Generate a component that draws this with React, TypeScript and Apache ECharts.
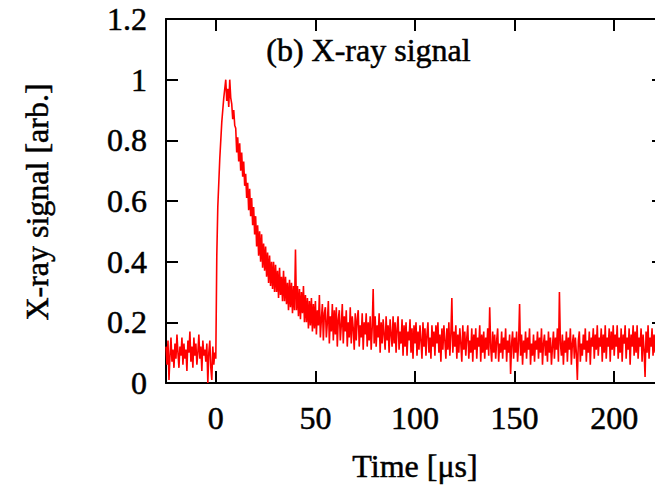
import React, { useEffect, useRef } from "react";
import * as echarts from "echarts";

// Sampling: first time and step (µs)
const tStart = -25;
const tStep = 0.5;

// X-ray signal values, one per 0.5 µs starting at -25 µs
const signal: number[] = [
  // -25 .. -20.5
  0.12, 0.06, 0.14, 0.01, 0.09, 0.15, 0.07, 0.11, 0.05, 0.13,
  // -20 .. -15.5
  0.08, 0.16, 0.1, 0.05, 0.12, 0.09, 0.15, 0.06, 0.13, 0.08,
  // -15 .. -10.5
  0.11, 0.04, 0.14, 0.1, 0.17, 0.07, 0.12, 0.05, 0.15, 0.09,
  // -10 .. -5.5
  0.13, 0.06, 0.1, 0.16, 0.08, 0.12, 0.04, 0.14, 0.09, 0.11,
  // -5 .. -0.5
  0.07, 0.13, 0.0, 0.1, 0.14, 0.05, 0.01, 0.12, 0.06, 0.1,
  // 0 .. 4.5
  0.08, 0.42, 0.58, 0.66, 0.74, 0.8, 0.86, 0.9, 0.94, 0.97,
  // 5 .. 9.5
  1.0, 0.93, 0.97, 0.91, 1.0, 0.94, 0.92, 0.87, 0.9, 0.85,
  // 10 .. 14.5
  0.84, 0.76, 0.81, 0.73, 0.79, 0.7, 0.76, 0.68, 0.73, 0.65,
  // 15 .. 19.5
  0.69, 0.61, 0.66, 0.57, 0.64, 0.55, 0.61, 0.52, 0.58, 0.49,
  // 20 .. 24.5
  0.55, 0.45, 0.52, 0.42, 0.5, 0.4, 0.49, 0.38, 0.46, 0.37,
  // 25 .. 29.5
  0.45, 0.35, 0.43, 0.33, 0.42, 0.32, 0.4, 0.31, 0.4, 0.3,
  // 30 .. 34.5
  0.39, 0.3, 0.37, 0.28, 0.38, 0.29, 0.35, 0.27, 0.37, 0.27,
  // 35 .. 39.5
  0.35, 0.26, 0.33, 0.24, 0.34, 0.25, 0.33, 0.23, 0.32, 0.24,
  // 40 .. 44.5
  0.44, 0.24, 0.32, 0.22, 0.31, 0.21, 0.3, 0.23, 0.32, 0.2,
  // 45 .. 49.5
  0.29, 0.2, 0.28, 0.18, 0.27, 0.19, 0.28, 0.17, 0.26, 0.18,
  // 50 .. 54.5
  0.27, 0.16, 0.24, 0.19, 0.29, 0.15, 0.21, 0.26, 0.14, 0.23,
  // 55 .. 59.5
  0.25, 0.15, 0.2, 0.27, 0.13, 0.22, 0.17, 0.26, 0.14, 0.24,
  // 60 .. 64.5
  0.16, 0.25, 0.12, 0.21, 0.24, 0.14, 0.19, 0.26, 0.13, 0.22,
  // 65 .. 69.5
  0.17, 0.24, 0.12, 0.2, 0.15, 0.25, 0.13, 0.22, 0.18, 0.11,
  // 70 .. 74.5
  0.23, 0.14, 0.21, 0.24, 0.12, 0.19, 0.15, 0.23, 0.11, 0.2,
  // 75 .. 79.5
  0.16, 0.23, 0.12, 0.2, 0.14, 0.22, 0.11, 0.18, 0.31, 0.13,
  // 80 .. 84.5
  0.22, 0.12, 0.19, 0.15, 0.23, 0.1, 0.2, 0.13, 0.21, 0.16,
  // 85 .. 89.5
  0.11, 0.22, 0.14, 0.19, 0.1, 0.21, 0.16, 0.12, 0.22, 0.13,
  // 90 .. 94.5
  0.2, 0.1, 0.18, 0.22, 0.11, 0.17, 0.13, 0.21, 0.09, 0.19,
  // 95 .. 99.5
  0.12, 0.2, 0.09, 0.17, 0.14, 0.21, 0.1, 0.18, 0.08, 0.19,
  // 100 .. 104.5
  0.13, 0.2, 0.09, 0.17, 0.11, 0.19, 0.14, 0.08, 0.2, 0.12,
  // 105 .. 109.5
  0.18, 0.09, 0.16, 0.2, 0.1, 0.15, 0.08, 0.19, 0.12, 0.17,
  // 110 .. 114.5
  0.09, 0.19, 0.13, 0.2, 0.1, 0.16, 0.07, 0.18, 0.11, 0.19,
  // 115 .. 119.5
  0.14, 0.08, 0.18, 0.11, 0.2, 0.09, 0.16, 0.28, 0.1, 0.17,
  // 120 .. 124.5
  0.12, 0.19, 0.08, 0.16, 0.1, 0.18, 0.13, 0.07, 0.19, 0.11,
  // 125 .. 129.5
  0.17, 0.09, 0.15, 0.19, 0.08, 0.14, 0.1, 0.18, 0.07, 0.16,
  // 130 .. 134.5
  0.11, 0.18, 0.08, 0.15, 0.12, 0.19, 0.07, 0.16, 0.1, 0.17,
  // 135 .. 139.5
  0.08, 0.15, 0.11, 0.18, 0.09, 0.25, 0.12, 0.07, 0.17, 0.1,
  // 140 .. 144.5
  0.16, 0.08, 0.14, 0.18, 0.07, 0.13, 0.1, 0.17, 0.08, 0.15,
  // 145 .. 149.5
  0.11, 0.18, 0.07, 0.14, 0.1, 0.16, 0.03, 0.13, 0.17, 0.08,
  // 150 .. 154.5
  0.15, 0.1, 0.17, 0.07, 0.13, 0.26, 0.09, 0.16, 0.06, 0.14,
  // 155 .. 159.5
  0.1, 0.17, 0.08, 0.15, 0.11, 0.18, 0.06, 0.13, 0.09, 0.16,
  // 160 .. 164.5
  0.07, 0.14, 0.11, 0.17, 0.08, 0.15, 0.1, 0.18, 0.06, 0.13,
  // 165 .. 169.5
  0.16, 0.09, 0.14, 0.07, 0.17, 0.1, 0.15, 0.06, 0.12, 0.17,
  // 170 .. 174.5
  0.08, 0.15, 0.11, 0.18, 0.07, 0.3, 0.13, 0.09, 0.16, 0.06,
  // 175 .. 179.5
  0.14, 0.1, 0.17, 0.07, 0.15, 0.11, 0.18, 0.06, 0.13, 0.16,
  // 180 .. 184.5
  0.08, 0.15, 0.1, 0.01, 0.14, 0.17, 0.07, 0.13, 0.09, 0.16,
  // 185 .. 189.5
  0.11, 0.18, 0.07, 0.14, 0.1, 0.17, 0.06, 0.15, 0.12, 0.18,
  // 190 .. 194.5
  0.08, 0.16, 0.11, 0.19, 0.09, 0.15, 0.12, 0.18, 0.07, 0.16,
  // 195 .. 199.5
  0.1, 0.19, 0.08, 0.15, 0.12, 0.18, 0.07, 0.17, 0.11, 0.19,
  // 200 .. 204.5
  0.09, 0.16, 0.12, 0.19, 0.08, 0.15, 0.1, 0.18, 0.07, 0.16,
  // 205 .. 209.5
  0.13, 0.19, 0.08, 0.15, 0.11, 0.18, 0.06, 0.16, 0.12, 0.19,
  // 210 .. 214.5
  0.09, 0.17, 0.1, 0.19, 0.08, 0.15, 0.12, 0.18, 0.07, 0.16,
  // 215 .. 219.5
  0.11, 0.02, 0.17, 0.1, 0.19, 0.08, 0.15, 0.12, 0.18, 0.09,
  // 220 .. 222
  0.16, 0.1, 0.18, 0.08, 0.15,
];

const xTicks = [0, 50, 100, 150, 200];
const xMin = -25;
const xMax = 225;
const yMin = 0;
const yMax = 1.2;
const yInterval = 0.2;

const titleText = "(b) X-ray signal";
const xName = "Time [\u03bcs]";
const yName = "X-ray signal [arb.]";

const FONT = "'Liberation Serif', 'Times New Roman', serif";

export default function App() {
  const ref = useRef<HTMLDivElement>(null);

  useEffect(() => {
    if (!ref.current) return;
    const chart = echarts.init(ref.current, undefined, { renderer: "svg" });
    const data = signal.map((v, i) => [tStart + i * tStep, v]);

    const tickStyle = { color: "#000", width: 2 };
    const axisLine = { show: true, onZero: false, lineStyle: { color: "#000", width: 2 } };
    const labelStyle = {
      color: "#000",
      fontFamily: FONT,
      fontSize: 32,
      textBorderColor: "#000",
      textBorderWidth: 0.5,
    };
    const textStyle = (text: string, extra: any = {}) => ({
      text,
      fill: "#000",
      stroke: "#000",
      lineWidth: 0.5,
      font: `32px ${FONT}`,
      ...extra,
    });

    chart.setOption({
      animation: false,
      backgroundColor: "#fff",
      grid: {
        left: 166,
        top: 19,
        width: 498,
        height: 364,
        containLabel: false,
        outerBoundsMode: "none",
      },
      xAxis: [
        {
          type: "value",
          position: "bottom",
          min: xMin,
          max: xMax,
          axisLine,
          axisTick: { show: true, inside: true, length: 12, lineStyle: tickStyle, customValues: xTicks },
          axisLabel: { ...labelStyle, margin: 19, customValues: xTicks },
          splitLine: { show: false },
        },
        {
          type: "value",
          position: "top",
          min: xMin,
          max: xMax,
          axisLine,
          axisTick: { show: true, inside: true, length: 12, lineStyle: tickStyle, customValues: xTicks },
          axisLabel: { show: false },
          splitLine: { show: false },
        },
      ],
      yAxis: [
        {
          type: "value",
          position: "left",
          min: yMin,
          max: yMax,
          interval: yInterval,
          axisLine,
          axisTick: { show: true, inside: true, length: 12, lineStyle: tickStyle },
          axisLabel: { ...labelStyle, margin: 19 },
          splitLine: { show: false },
        },
        {
          type: "value",
          position: "right",
          min: yMin,
          max: yMax,
          interval: yInterval,
          axisLine,
          axisTick: { show: true, inside: true, length: 12, lineStyle: tickStyle },
          axisLabel: { show: false },
          splitLine: { show: false },
        },
      ],
      series: [
        {
          type: "line",
          data,
          xAxisIndex: 0,
          yAxisIndex: 0,
          symbol: "none",
          lineStyle: { color: "#ff0000", width: 1.6 },
          itemStyle: { color: "#ff0000" },
          z: 1,
        },
      ],
      graphic: [
        {
          type: "text",
          left: 266,
          top: 34,
          style: textStyle(titleText),
        },
        {
          type: "text",
          x: 415,
          y: 466,
          style: textStyle(xName, { align: "center", verticalAlign: "middle" }),
        },
        {
          type: "text",
          x: 37,
          y: 202,
          rotation: Math.PI / 2,
          style: textStyle(yName, { align: "center", verticalAlign: "middle" }),
        },
      ],
    });

    return () => chart.dispose();
  }, []);

  return (
    <div
      ref={ref}
      style={{ position: "absolute", left: 0, top: 0, width: 655, height: 486 }}
    />
  );
}
